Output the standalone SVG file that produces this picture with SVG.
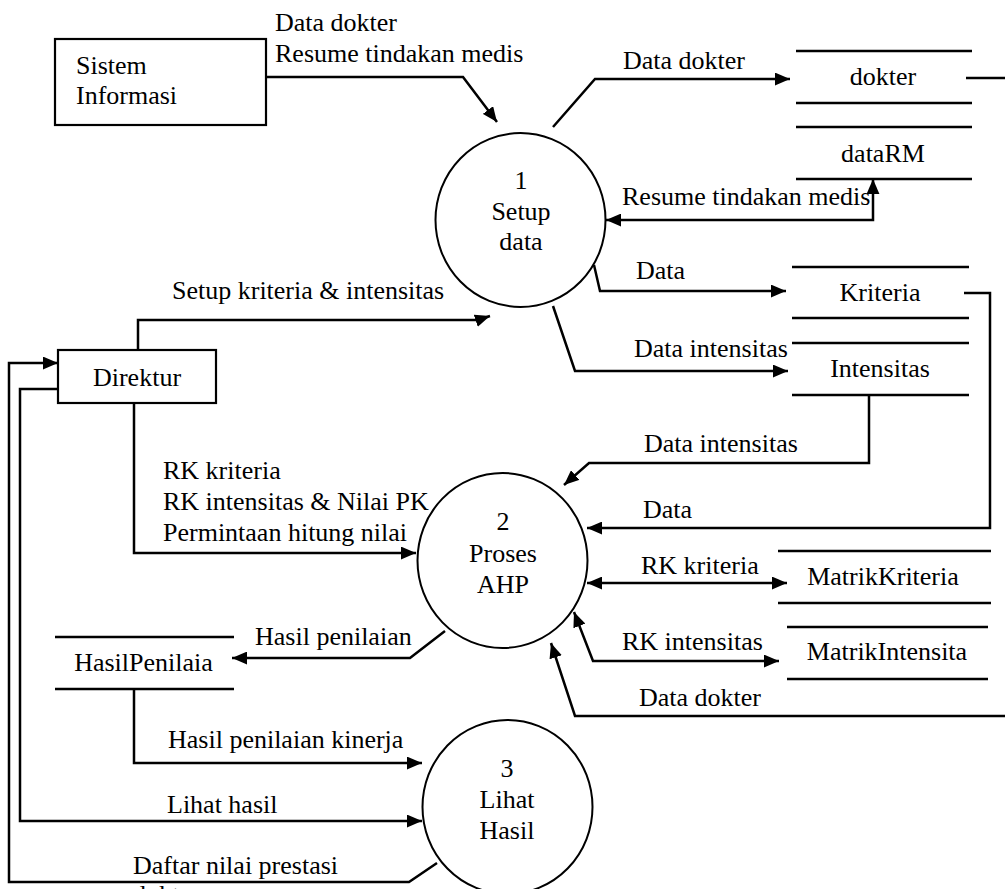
<svg xmlns="http://www.w3.org/2000/svg" width="1005" height="889" viewBox="0 0 1005 889" font-family="'Liberation Serif', 'Times New Roman', serif">
<style>
text{font-family:'Liberation Serif','Times New Roman',serif;font-size:26px;fill:#000}
.c{text-anchor:middle}
.box{fill:#fff;stroke:#000;stroke-width:2.2}
.proc{fill:#fff;stroke:#000;stroke-width:2}
.st{stroke:#000;stroke-width:2.5;fill:none}
.ln{stroke:#000;stroke-width:2.5;fill:none;stroke-linejoin:miter}
.a{marker-end:url(#ah)}
.b{marker-start:url(#ah);marker-end:url(#ah)}
</style>
<defs>
<marker id="ah" viewBox="0 0 14 12" refX="14" refY="6" markerWidth="15" markerHeight="13" markerUnits="userSpaceOnUse" orient="auto-start-reverse">
<path d="M0,0 L14,6 L0,12 z" fill="#000"/>
</marker>
</defs>
<rect width="1005" height="889" fill="#fff"/>

<g id="connectors">
<path class="ln a" d="M266,77 L463,77 L497,122"/>
<path class="ln a" d="M553,127 L595,79 L790,79"/>
<path class="ln b" d="M606,220 L873,220 L873,179"/>
<path class="ln a" d="M594,265 L600,291 L786,291"/>
<path class="ln a" d="M553,306 L575,371 L788,371"/>
<path class="ln a" d="M869,395 L869,463 L589,463 L564,485"/>
<path class="ln a" d="M964,293 L990,293 L990,528 L587,528"/>
<path class="ln b" d="M587,583 L787,583"/>
<path class="ln b" d="M574,612 L593,661 L779,661"/>
<path class="ln" d="M966,78 L1005,78"/>
<path class="ln a" d="M1005,716 L575,716 L551,643"/>
<path class="ln a" d="M138,350 L138,320 L478,320 L490,316"/>
<path class="ln a" d="M134,403 L134,553 L416,553"/>
<path class="ln a" d="M445,631 L410,658 L232,658"/>
<path class="ln a" d="M134,689 L134,763 L422,763"/>
<path class="ln a" d="M58,389 L20,389 L20,821 L422,821"/>
<path class="ln a" d="M437,863 L409,882 L9,882 L9,363 L58,363"/>
</g>

<g id="label-sistem-flow">
<text x="275" y="31">Data dokter</text>
<text x="275" y="62">Resume tindakan medis</text>
</g>
<g id="labels">
<text x="623" y="69">Data dokter</text>
<text x="622" y="205">Resume tindakan medis</text>
<text x="636" y="279">Data</text>
<text x="634" y="357">Data intensitas</text>
<text x="644" y="452">Data intensitas</text>
<text x="643" y="518">Data</text>
<text x="641" y="574">RK kriteria</text>
<text x="622" y="650">RK intensitas</text>
<text x="639" y="706">Data dokter</text>
<text x="172" y="299">Setup kriteria &amp; intensitas</text>
<text x="163" y="479">RK kriteria</text>
<text x="163" y="510">RK intensitas &amp; Nilai PK</text>
<text x="163" y="541">Permintaan hitung nilai</text>
<text x="255" y="645">Hasil penilaian</text>
<text x="168" y="748">Hasil penilaian kinerja</text>
<text x="167" y="813">Lihat hasil</text>
<text x="133" y="874">Daftar nilai prestasi</text>
<text x="133" y="903">dokter</text>
</g>

<g id="sistem-informasi">
<rect class="box" x="55" y="39" width="211" height="86"/>
<text x="76" y="74">Sistem</text>
<text x="76" y="104">Informasi</text>
</g>

<g id="direktur">
<rect class="box" x="58" y="350" width="158" height="53"/>
<text class="c" x="137" y="386">Direktur</text>
</g>

<g id="proses-1">
<ellipse class="proc" cx="520.5" cy="220" rx="85" ry="87"/>
<text class="c" x="521" y="189">1</text>
<text class="c" x="521" y="220">Setup</text>
<text class="c" x="521" y="250">data</text>
</g>

<g id="proses-2">
<ellipse class="proc" cx="502.5" cy="560.5" rx="85" ry="87.5"/>
<text class="c" x="503" y="530">2</text>
<text class="c" x="503" y="562">Proses</text>
<text class="c" x="503" y="593">AHP</text>
</g>

<g id="proses-3">
<ellipse class="proc" cx="507.5" cy="807" rx="85" ry="87"/>
<text class="c" x="507" y="777">3</text>
<text class="c" x="507" y="808">Lihat</text>
<text class="c" x="507" y="839">Hasil</text>
</g>

<g id="store-dokter">
<path class="st" d="M796,51 L972,51 M796,103 L972,103"/>
<text class="c" x="883" y="85">dokter</text>
</g>
<g id="store-datarm">
<path class="st" d="M796,127 L972,127 M796,179 L972,179"/>
<text class="c" x="883" y="162">dataRM</text>
</g>
<g id="store-kriteria">
<path class="st" d="M792,267 L969,267 M792,318 L969,318"/>
<text class="c" x="880" y="301">Kriteria</text>
</g>
<g id="store-intensitas">
<path class="st" d="M792,343 L969,343 M792,395 L969,395"/>
<text class="c" x="880" y="377">Intensitas</text>
</g>
<g id="store-matrikkriteria">
<path class="st" d="M778,551 L991,551 M778,603 L991,603"/>
<text class="c" x="883" y="585">MatrikKriteria</text>
</g>
<g id="store-matrikintensita">
<path class="st" d="M787,627 L988,627 M787,679 L988,679"/>
<text class="c" x="887" y="660">MatrikIntensita</text>
</g>
<g id="store-hasilpenilaian">
<path class="st" d="M55,637 L234,637 M55,689 L234,689"/>
<text class="c" x="143.5" y="671">HasilPenilaia</text>
</g>
</svg>
